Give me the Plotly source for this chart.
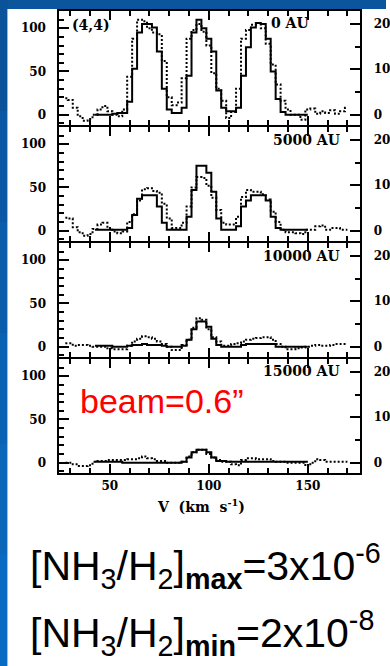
import plotly.graph_objects as go

W, H = 390, 666

# ---------------- data ----------------
v_solid = [42.5, 45, 47.5, 50, 52.5, 55, 57.5, 60, 62.5, 65, 67.5, 70, 72.5, 75, 77.5,
           80, 82.5, 85, 87.5, 90, 92.5, 95, 97.5, 100, 102.5, 105, 107.5, 110, 112.5,
           115, 117.5, 120, 122.5, 125, 127.5, 130, 132.5, 135, 137.5, 140, 142.5, 145,
           147.5, 150]
v_dot = [27.5, 30, 32.5, 35, 37.5, 40, 42.5, 45, 47.5, 50, 52.5, 55, 57.5, 60, 62.5, 65,
         67.5, 70, 72.5, 75, 77.5, 80, 82.5, 85, 87.5, 90, 92.5, 95, 97.5, 100, 102.5,
         105, 107.5, 110, 112.5, 115, 117.5, 120, 122.5, 125, 127.5, 130, 132.5, 135,
         137.5, 140, 142.5, 145, 147.5, 150, 152.5, 155, 157.5, 160, 162.5, 165, 167.5, 170]

solid_0au = [0, 0, 0, 0, 1, 2, 2, 15, 53, 95,
             105, 105, 101, 73, 30, 6, 2, 2, 8, 45,
             95, 110, 100, 88, 73, 28, 8, 4, 4, 8,
             45, 78, 101, 106, 105, 88, 50, 18, 3, 0,
             0, 0, 0, 0]
solid_5000au = [1, 1, 1, 1, 1, 1, 1, 3, 18, 37,
                41, 41, 41, 28, 9, 1, 1, 1, 1, 16,
                47, 75, 75, 67, 45, 14, 1, 1, 1, 5,
                28, 35, 41, 41, 41, 35, 16, 3, 1, 1,
                1, 1, 1, 1]
solid_10000au = [1, 1, 1, 1, 0, 0, 0, 1, 2, 2,
                 3, 2, 2, 2, 1, 0, 0, 0, 1, 8,
                 20, 29, 29, 23, 9, 2, 0, 0, 0, 0,
                 2, 3, 3, 3, 3, 3, 3, 0, 0, 0,
                 0, 0, 0, 0]
solid_15000au = [1, 1, 1, 1, 1, 1, 0, 0, 0, 0,
                 0, 0, 0, 0, 0, 0, 0, 0, 1, 6,
                 12, 15, 15, 12, 6, 2, 2, 1, 1, 1,
                 1, 1, 1, 1, 1, 1, 1, 1, 1, 1,
                 1, 1, 1, 1]

dot_0au = [19, 17, 8, -2, -7, -5, 0, 6, 10, 4,
           0, -2, 6, 44, 88, 110, 108, 100, 95, 93,
           62, 20, 11, 14, 42, 88, 98, 105, 96, 80,
           48, 30, 16, -4, 3, 30, 88, 98, 104, 106,
           100, 82, 58, 35, 16, 6, 0, 0, -6, 6,
           7, 1, 4, 2, 5, 1, 4, 8]
dot_5000au = [15, 14, 4, -2, -6, -4, 2, 7, 9, 3,
              -1, -3, -1, 10, 19, 35, 48, 49, 46, 44,
              31, 14, 3, 3, 9, 28, 50, 62, 61, 52,
              38, 24, 9, 7, 7, 16, 39, 47, 45, 45,
              42, 36, 22, 10, 1, -2, -2, -3, -4, 1,
              1, 5, 6, 1, 3, 3, 1, 1]
dot_10000au = [4, 4, 1, 2, 2, 1, 0, 0, 0, -2,
               -3, -3, -3, 1, 6, 9, 12, 11, 9, 6,
               3, 0, -4, -4, 2, 8, 22, 33, 31, 20,
               11, 6, 1, 1, 3, 4, 6, 8, 9, 10,
               11, 11, 8, 3, 0, -3, -3, -2, -1, 0,
               1, 2, 1, 1, 2, 3, 3, 3]
dot_15000au = [0, 0, -2, -4, -4, -3, 1, 2, 2, 3,
               3, 3, 3, 4, 4, 5, 7, 5, 4, 2,
               2, 0, 0, 0, 1, 7, 12, 15, 15, 10,
               6, 3, 1, 1, -2, -3, 3, 5, 5, 4,
               4, 4, 2, 1, 1, 0, 0, 0, 0, -4,
               0, 4, 3, 1, 1, 1, 1, 1]

panel_labels = ["0 AU", "5000 AU", "10000 AU", "15000 AU"]
left_ticks = [0, 50, 100]
right_ticks = [0, 10, 20]
x_ticks = [50, 100, 150]

solids = [solid_0au, solid_5000au, solid_10000au, solid_15000au]
dots = [dot_0au, dot_5000au, dot_10000au, dot_15000au]

# ---------------- layout helpers ----------------
panels_px = [(11, 125), (127, 241), (243, 357), (359, 473)]
xdom = [60 / W, 364 / W]


def px_x(p):
    return p / W


def px_y(p):
    return 1 - p / H


tick_font = dict(family="DejaVu Serif", size=12, color="black", weight="bold")
lbl_font = dict(family="DejaVu Serif", size=14, color="black", weight="bold")

fig = go.Figure()
layout = dict(
    width=W, height=H,
    margin=dict(l=0, r=0, t=0, b=0, pad=0),
    paper_bgcolor="white", plot_bgcolor="white",
    showlegend=False,
)

for i, (top, bot) in enumerate(panels_px):
    n = i + 1
    xa = "x" if n == 1 else f"x{n}"
    ya = "y" if n == 1 else f"y{n}"
    yr = f"y{n + 4}"
    fig.add_trace(go.Scatter(x=v_dot, y=dots[i], xaxis=xa, yaxis=ya, mode="lines",
                             line=dict(shape="hvh", color="black", width=2, dash="2px,2px"),
                             hoverinfo="skip"))
    fig.add_trace(go.Scatter(x=v_solid, y=solids[i], xaxis=xa, yaxis=ya, mode="lines",
                             line=dict(shape="hvh", color="black", width=2),
                             hoverinfo="skip"))
    fig.add_trace(go.Scatter(x=[None], y=[None], xaxis=xa, yaxis=yr, mode="lines",
                             showlegend=False, hoverinfo="skip"))
    ydom = [px_y(bot), px_y(top)]
    layout["xaxis" if n == 1 else f"xaxis{n}"] = dict(
        domain=xdom, anchor=ya, range=[24.5, 176.5],
        showline=True, linecolor="black", linewidth=2, mirror="ticks",
        ticks="inside", ticklen=9, tickwidth=2, tickcolor="black",
        tickvals=x_ticks, showticklabels=(n == 4), tickfont=tick_font,
        ticklabelstandoff=1,
        minor=dict(dtick=10, tick0=0, ticks="inside", ticklen=5, tickwidth=2,
                   tickcolor="black", showgrid=False),
        showgrid=False, zeroline=False, fixedrange=True,
    )
    layout["yaxis" if n == 1 else f"yaxis{n}"] = dict(
        domain=ydom, anchor=xa, range=[-12, 120],
        showline=True, linecolor="black", linewidth=2, mirror=True,
        ticks="inside", ticklen=10, tickwidth=2, tickcolor="black",
        tickvals=left_ticks, tickfont=tick_font, ticklabelstandoff=9,
        minor=dict(dtick=10, tick0=0, ticks="inside", ticklen=5, tickwidth=2,
                   tickcolor="black", showgrid=False),
        showgrid=False, zeroline=False, fixedrange=True,
    )
    layout[f"yaxis{n + 4}"] = dict(
        overlaying=ya, anchor=xa, side="right", range=[-2.29, 22.86],
        showline=True, linecolor="black", linewidth=2,
        ticks="inside", ticklen=10, tickwidth=2, tickcolor="black",
        tickvals=right_ticks, tickfont=tick_font, ticklabelstandoff=9,
        minor=dict(dtick=5, tick0=0, ticks="inside", ticklen=5, tickwidth=2,
                   tickcolor="black", showgrid=False),
        showgrid=False, zeroline=False, fixedrange=True,
    )

annotations = [
    dict(text="(4,4)", x=px_x(71), y=px_y(25), xanchor="left", yanchor="middle"),
    dict(text=panel_labels[0], x=px_x(314), y=px_y(23), xanchor="right", yanchor="middle"),
    dict(text=panel_labels[1], x=px_x(346), y=px_y(140), xanchor="right", yanchor="middle"),
    dict(text=panel_labels[2], x=px_x(346), y=px_y(256), xanchor="right", yanchor="middle"),
    dict(text=panel_labels[3], x=px_x(346), y=px_y(371), xanchor="right", yanchor="middle"),
]
for a in annotations:
    a.update(xref="paper", yref="paper", showarrow=False, font=lbl_font)

annotations.append(dict(text="V  (km  s<sup>-1</sup>)", x=px_x(203), y=px_y(506),
                        xref="paper", yref="paper", xanchor="center", yanchor="middle",
                        showarrow=False,
                        font=dict(family="DejaVu Serif", size=14, color="black",
                                  weight="bold")))
annotations.append(dict(text="beam=0.6\u201d", x=px_x(79), y=px_y(401), xref="paper",
                        yref="paper", xanchor="left", yanchor="middle", showarrow=False,
                        font=dict(family="Liberation Sans", size=34, color="#ff0000")))
annotations.append(dict(text="[NH<sub>3</sub>/H<sub>2</sub>]<sub><b>max</b></sub>=3x10<sup>-6</sup>",
                        x=px_x(28), y=px_y(566), xref="paper", yref="paper",
                        xanchor="left", yanchor="middle", showarrow=False,
                        font=dict(family="Liberation Sans", size=41, color="black")))
annotations.append(dict(text="[NH<sub>3</sub>/H<sub>2</sub>]<sub><b>min</b></sub>=2x10<sup>-8</sup>",
                        x=px_x(28), y=px_y(633), xref="paper", yref="paper",
                        xanchor="left", yanchor="middle", showarrow=False,
                        font=dict(family="Liberation Sans", size=41, color="black")))
layout["annotations"] = annotations

# slide background strips
shapes = [dict(type="rect", xref="paper", yref="paper", x0=0, x1=1, y0=px_y(9), y1=1,
               fillcolor="#0b559c", line=dict(width=0), layer="above")]
left_cols = ["#0a539b", "#0a58a3", "#0a5daa", "#0a62b2", "#0a67ba", "#0a6bc2"]
seg = H / len(left_cols)
for k, c in enumerate(left_cols):
    shapes.append(dict(type="rect", xref="paper", yref="paper", x0=0, x1=px_x(7.5),
                       y0=px_y((k + 1) * seg), y1=px_y(k * seg),
                       fillcolor=c, line=dict(width=0), layer="above"))
layout["shapes"] = shapes

fig.update_layout(**layout)
fig.write_html("out.html")
